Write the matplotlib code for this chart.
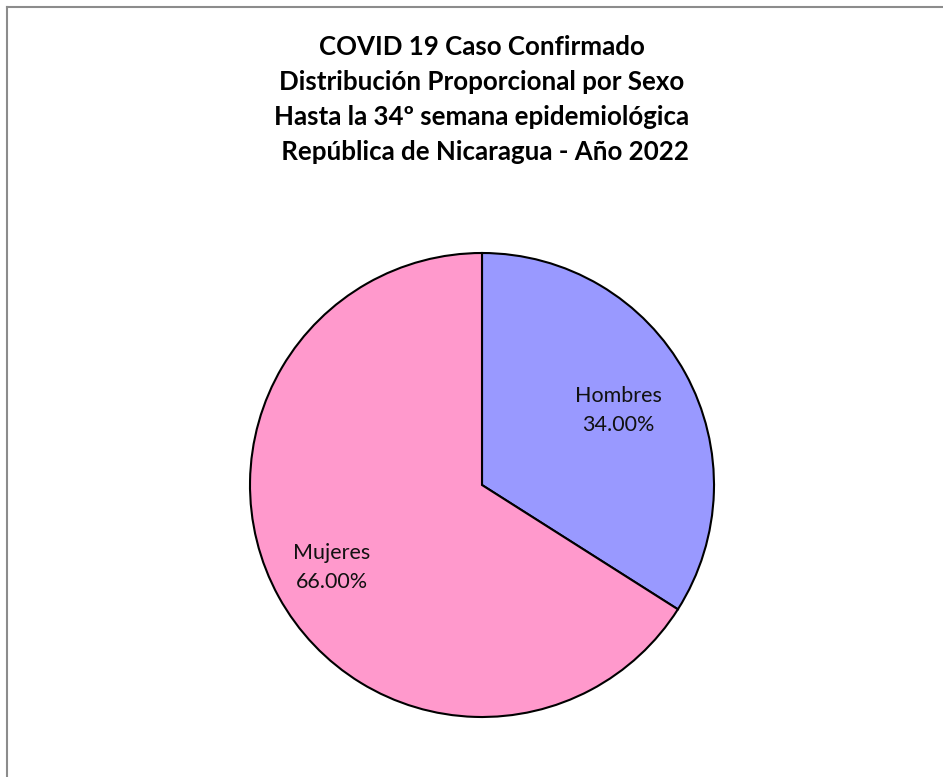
import matplotlib
matplotlib.use("Agg")
import matplotlib.pyplot as plt
import numpy as np

categories = ["Hombres", "Mujeres"]
values = [34.00, 66.00]
colors = ["#9999FF", "#FF99CC"]
title_lines = ["COVID 19 Caso Confirmado",
               "Distribución Proporcional por Sexo",
               "Hasta la 34º semana epidemiológica",
               " República de Nicaragua - Año 2022"]

W, H = 943, 777
fig = plt.figure(figsize=(W/100, H/100), dpi=100)
fig.patch.set_facecolor("white")

# frame lines (top and left visible)
fig.add_artist(plt.Line2D([7/W, 1], [1-7/H, 1-7/H], color="#8c8c8c", lw=1.5, transform=fig.transFigure))
fig.add_artist(plt.Line2D([7/W, 7/W], [0, 1-7/H], color="#8c8c8c", lw=1.5, transform=fig.transFigure))

cx, cy, r = 482, 485, 232
ax = fig.add_axes([(cx-r)/W, (H-cy-r)/H, 2*r/W, 2*r/H])
wedges, _ = ax.pie(values, colors=colors, startangle=90, counterclock=False,
                   wedgeprops=dict(edgecolor="black", linewidth=1.5), radius=1.0)
ax.set_xlim(-1, 1); ax.set_ylim(-1, 1)
ax.set_aspect("equal")
ax.axis("off")

dists = [0.67, 0.74]
for w, cat, v, d in zip(wedges, categories, values, dists):
    th = np.deg2rad((w.theta1 + w.theta2) / 2)
    ax.text(d*np.cos(th), d*np.sin(th), f"{cat}\n{v:.2f}%", ha="center", va="center",
            fontsize=15.5, family=["Lato", "DejaVu Sans"], linespacing=1.55, color="#111111")

ys = [47, 82, 117, 152]
for t, y in zip(title_lines, ys):
    fig.text(482/W, 1-y/H, t, ha="center", va="center", fontsize=18.6,
             fontweight="bold", family=["Lato", "DejaVu Sans"])

fig.savefig("out.png", dpi=100)
